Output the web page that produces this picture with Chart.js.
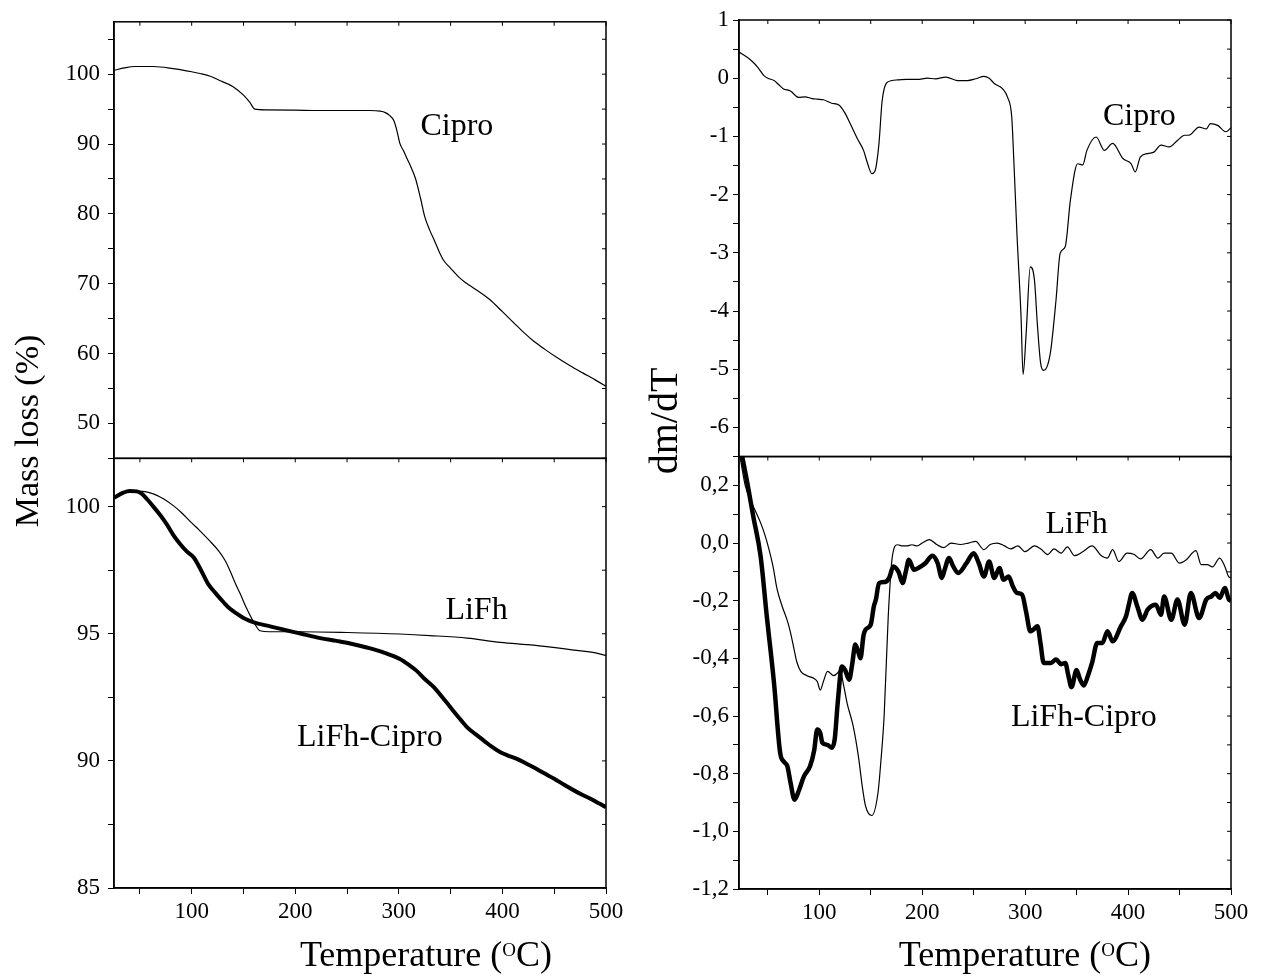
<!DOCTYPE html>
<html>
<head>
<meta charset="utf-8">
<title>TGA / DTG</title>
<script src="https://cdn.jsdelivr.net/npm/chart.js@4/dist/chart.umd.min.js"></script>
<style>
  body { margin: 0; background: #fff; }
  #wrap { position: relative; width: 1261px; height: 977px; }
  canvas { position: absolute; top: 0; }
  #tga { left: 0; }
  #dtg { left: 630px; }
</style>
</head>
<body>
<div id="wrap">
  <canvas id="tga" width="630" height="977"></canvas>
  <canvas id="dtg" width="631" height="977"></canvas>
</div>
<script>
const FONT = '"Liberation Serif", "Times New Roman", serif';

// mass loss, Cipro (top left)
const ciproTgaT = [25, 35, 45, 63, 82, 100, 108, 118, 127, 135, 140, 150, 156, 161, 172, 200, 224, 250, 272, 282, 287, 291, 295, 298, 301, 305, 308, 312, 316, 321, 325, 330, 334, 338, 343, 350, 359, 365, 372, 380, 388, 400, 411, 420, 430, 441, 453, 465, 478, 490, 500];
const ciproTgaMass = [100.55, 100.9, 101.1, 101.1, 100.8, 100.35, 100.1, 99.7, 99.1, 98.6, 98.2, 97.0, 96.0, 95.0, 94.9, 94.85, 94.8, 94.8, 94.8, 94.7, 94.5, 94.1, 93.4, 92.0, 90.1, 88.9, 87.9, 86.6, 85.1, 82.2, 79.6, 77.6, 76.3, 74.9, 73.4, 72.2, 70.8, 70.1, 69.4, 68.6, 67.7, 66.0, 64.4, 63.1, 61.8, 60.6, 59.4, 58.3, 57.2, 56.2, 55.3];

// mass loss, LiFh and LiFh-Cipro (bottom left)
const lifhTgaT = [25, 35, 44, 53, 63, 73, 82, 90, 99, 108, 117, 126, 132, 137, 142, 147, 153, 160, 166, 175, 205, 250, 301, 330, 366, 398, 430, 469, 490, 500];
const lifhTgaMass = [100.35, 100.55, 100.6, 100.6, 100.5, 100.3, 100.05, 99.77, 99.4, 99.05, 98.67, 98.26, 97.9, 97.48, 97.0, 96.56, 96.0, 95.45, 95.12, 95.08, 95.08, 95.05, 94.99, 94.93, 94.83, 94.66, 94.55, 94.36, 94.25, 94.14];
const lifhCiproTgaT = [25, 34, 40, 47, 52, 57, 63, 69, 76, 82, 89, 95, 102, 109, 116, 123, 131, 137, 144, 150, 156, 164, 173, 189, 205, 224, 240, 253, 270, 285, 301, 309, 317, 325, 334, 342, 350, 358, 366, 374, 382, 390, 398, 406, 414, 422, 430, 440, 450, 460, 469, 477, 485, 493, 500];
const lifhCiproTgaMass = [100.35, 100.55, 100.62, 100.6, 100.5, 100.29, 100.0, 99.7, 99.3, 98.9, 98.52, 98.25, 98.0, 97.5, 96.95, 96.6, 96.23, 95.98, 95.78, 95.62, 95.51, 95.4, 95.32, 95.16, 95.01, 94.83, 94.72, 94.62, 94.45, 94.27, 94.01, 93.8, 93.55, 93.22, 92.89, 92.5, 92.1, 91.7, 91.32, 91.05, 90.8, 90.55, 90.34, 90.2, 90.08, 89.92, 89.75, 89.52, 89.3, 89.05, 88.84, 88.67, 88.51, 88.33, 88.18];

// dm/dT, Cipro (top right)
const ciproDtgT = [22, 30, 36, 41, 46, 50, 56, 60, 65, 72, 80, 86, 93, 98, 104, 112, 119, 125, 130, 137, 143, 147, 151, 154, 158, 161, 166, 176, 185, 195, 205, 213, 223, 234, 244, 252, 260, 265, 270, 278, 283, 287, 289, 292, 296, 298, 301, 305, 309, 312, 315, 318, 322, 325, 330, 334, 339, 344, 351, 356, 360, 369, 377, 385, 395, 403, 407, 412, 420, 425, 432, 440, 448, 455, 459, 469, 476, 480, 487, 495, 500];
const ciproDtg = [0.45, 0.36, 0.27, 0.17, 0.05, 0.0, -0.04, -0.1, -0.18, -0.22, -0.33, -0.32, -0.35, -0.36, -0.37, -0.43, -0.46, -0.6, -0.78, -1.04, -1.24, -1.47, -1.64, -1.6, -1.12, -0.4, -0.07, -0.03, -0.02, -0.02, 0.0, -0.01, 0.02, -0.04, -0.04, -0.01, 0.03, 0.0, -0.09, -0.18, -0.33, -0.67, -1.41, -2.66, -4.09, -5.09, -4.38, -3.24, -3.46, -4.26, -4.89, -5.02, -4.92, -4.66, -3.81, -3.01, -2.89, -2.09, -1.47, -1.49, -1.24, -1.01, -1.24, -1.12, -1.38, -1.47, -1.61, -1.35, -1.29, -1.27, -1.15, -1.18, -1.07, -0.98, -0.98, -0.84, -0.87, -0.78, -0.81, -0.92, -0.85];

// dm/dT, LiFh and LiFh-Cipro (bottom right)
const lifhDtgT = [23, 28, 33, 38, 43, 47, 51, 55, 59, 64, 69, 72, 75, 78, 82, 88, 95, 98, 101, 104, 108, 114, 118, 120, 124, 127, 133, 138, 142, 145, 151, 157, 160, 163, 167, 171, 176, 181, 185, 190, 195, 200, 207, 214, 221, 228, 237, 245, 252, 260, 266, 273, 280, 286, 293, 300, 309, 315, 322, 328, 335, 341, 348, 356, 365, 374, 380, 385, 391, 399, 406, 412, 422, 429, 435, 442, 450, 456, 466, 471, 477, 482, 489, 494, 498, 500];
const lifhDtg = [0.30, 0.2, 0.15, 0.11, 0.07, 0.03, -0.02, -0.08, -0.16, -0.22, -0.27, -0.31, -0.36, -0.41, -0.445, -0.46, -0.47, -0.48, -0.51, -0.48, -0.445, -0.46, -0.45, -0.44, -0.5, -0.555, -0.636, -0.74, -0.85, -0.913, -0.945, -0.867, -0.75, -0.6, -0.254, -0.046, -0.006, -0.01, -0.01, -0.006, -0.01, 0.0, 0.012, -0.005, -0.016, 0.0, -0.005, 0.0, 0.006, -0.023, -0.005, 0.0, -0.01, -0.02, -0.01, -0.03, -0.01, -0.02, -0.04, -0.02, -0.035, -0.013, -0.044, -0.03, -0.01, -0.044, -0.052, -0.023, -0.064, -0.035, -0.04, -0.055, -0.023, -0.052, -0.035, -0.035, -0.07, -0.06, -0.026, -0.075, -0.075, -0.083, -0.052, -0.081, -0.118, -0.12];
const lifhCiproDtgT = [24, 30, 36, 43, 49, 56, 62, 66, 69, 72, 76, 80, 85, 91, 95, 98, 101, 103, 108, 112, 115, 118, 122, 125, 129, 132, 135, 138, 140, 143, 145, 150, 153, 155, 158, 164, 168, 172, 177, 181, 184, 187, 192, 197, 203, 210, 215, 219, 222, 226, 230, 235, 243, 250, 255, 260, 265, 270, 275, 279, 284, 288, 292, 297, 301, 305, 308, 312, 315, 318, 325, 330, 335, 339, 342, 345, 350, 353, 357, 361, 365, 370, 375, 380, 385, 393, 398, 401, 404, 409, 414, 419, 427, 432, 435, 442, 448, 455, 461, 469, 476, 481, 485, 489, 494, 498, 500];
const lifhCiproDtg = [0.32, 0.21, 0.09, -0.046, -0.254, -0.485, -0.728, -0.76, -0.774, -0.83, -0.89, -0.86, -0.81, -0.774, -0.72, -0.647, -0.66, -0.693, -0.7, -0.71, -0.68, -0.55, -0.428, -0.44, -0.474, -0.42, -0.352, -0.38, -0.4, -0.32, -0.3, -0.283, -0.22, -0.196, -0.139, -0.135, -0.12, -0.081, -0.1, -0.139, -0.1, -0.058, -0.093, -0.085, -0.07, -0.044, -0.07, -0.121, -0.09, -0.052, -0.08, -0.104, -0.07, -0.035, -0.07, -0.116, -0.064, -0.121, -0.087, -0.127, -0.116, -0.15, -0.173, -0.179, -0.24, -0.306, -0.3, -0.289, -0.35, -0.416, -0.416, -0.404, -0.42, -0.416, -0.46, -0.5, -0.44, -0.47, -0.494, -0.46, -0.416, -0.347, -0.347, -0.306, -0.341, -0.289, -0.254, -0.21, -0.173, -0.22, -0.266, -0.231, -0.214, -0.249, -0.185, -0.266, -0.196, -0.283, -0.173, -0.26, -0.196, -0.185, -0.173, -0.19, -0.156, -0.196, -0.2];

const pts = (xs, ys) => xs.map((x, i) => ({x: x, y: ys[i]}));

const curve = (data, axis, width) => ({
    data: data,
    yAxisID: axis,
    borderColor: '#000',
    borderWidth: width,
    pointRadius: 0,
    fill: false,
    cubicInterpolationMode: 'monotone'
});

// frame around each panel, inner ticks, curve names and axis titles
const framePlugin = {
    id: 'frame',
    afterDraw(chart, args, opts) {
        const ctx = chart.ctx;
        const x = chart.scales.x;
        ctx.save();
        ctx.strokeStyle = '#000';
        ['yTop', 'yBot'].forEach(id => {
            const y = chart.scales[id];
            ctx.lineWidth = 1.5;
            ctx.strokeRect(x.left, y.top, x.right - x.left, y.bottom - y.top);
            ctx.lineWidth = 1;
            ctx.beginPath();
            y.ticks.forEach(t => {
                const p = y.getPixelForValue(t.value);
                ctx.moveTo(x.right, p);
                ctx.lineTo(x.right - 4, p);
            });
            x.ticks.forEach(t => {
                const p = x.getPixelForValue(t.value);
                ctx.moveTo(p, y.top);
                ctx.lineTo(p, y.top + 4);
            });
            ctx.stroke();
        });

        ctx.fillStyle = '#000';
        ctx.textAlign = 'center';
        ctx.textBaseline = 'alphabetic';
        ctx.font = '32px ' + FONT;
        opts.notes.forEach(n => {
            const y = chart.scales[n.axis];
            ctx.fillText(n.text, x.getPixelForValue(n.at[0]), y.getPixelForValue(n.at[1]));
        });

        // y title shared by both panels
        ctx.save();
        ctx.translate(opts.yTitleX, opts.yTitleY);
        ctx.rotate(-Math.PI / 2);
        ctx.font = opts.yTitleSize + 'px ' + FONT;
        ctx.textBaseline = 'middle';
        ctx.fillText(opts.yTitle, 0, 0);
        ctx.restore();

        // x title, with the raised O
        const big = '36px ' + FONT, small = '19px ' + FONT;
        ctx.textAlign = 'left';
        ctx.font = big;
        const w1 = ctx.measureText('Temperature (').width;
        const w3 = ctx.measureText('C)').width;
        ctx.font = small;
        const w2 = ctx.measureText('O').width;
        let cx = x.left + (x.right - x.left) * opts.xTitlePos - (w1 + w2 + w3) / 2;
        const by = opts.xTitleY;
        ctx.font = big;
        ctx.fillText('Temperature (', cx, by);
        ctx.font = small;
        ctx.fillText('O', cx + w1, by - 10);
        ctx.font = big;
        ctx.fillText('C)', cx + w1 + w2, by);
        ctx.restore();
    }
};

const yAxis = (min, max, step, weight, label, width, pad) => ({
    type: 'linear',
    position: 'left',
    stack: 'side',
    stackWeight: weight,
    min: min,
    max: max,
    ticks: {
        stepSize: step,
        includeBounds: false,
        autoSkip: false,
        callback: label,
        font: {family: FONT, size: 23},
        color: '#000',
        padding: pad
    },
    grid: {drawOnChartArea: false, tickLength: 6, color: '#000'},
    border: {color: '#000', width: 1.5},
    afterFit: s => { s.width = width; }
});

// stacked left axes are placed last-first, so yBot is listed before yTop
const makeChart = (id, cfg) => new Chart(document.getElementById(id), {
    type: 'line',
    data: {datasets: cfg.datasets},
    options: {
        responsive: false,
        animation: false,
        layout: {padding: cfg.padding},
        plugins: {
            legend: {display: false},
            tooltip: {enabled: false},
            frame: cfg.frame
        },
        scales: {
            x: {
                type: 'linear',
                position: 'bottom',
                min: cfg.xMin,
                max: 500,
                ticks: {
                    stepSize: 50,
                    includeBounds: false,
                    autoSkip: false,
                    maxRotation: 0,
                    callback: v => v % 100 === 0 ? String(v) : '',
                    font: {family: FONT, size: 23},
                    color: '#000',
                    padding: 4
                },
                grid: {drawOnChartArea: false, tickLength: 6, color: '#000'},
                border: {color: '#000', width: 1.5},
                afterFit: s => { s.height = cfg.xHeight; }
            },
            yBot: cfg.yBot,
            yTop: cfg.yTop
        }
    },
    plugins: [framePlugin]
});

makeChart('tga', {
    xMin: 25,
    xHeight: 89,
    padding: {top: 20, right: 24, bottom: 0, left: 0},
    datasets: [
        curve(pts(ciproTgaT, ciproTgaMass), 'yTop', 1.2),
        curve(pts(lifhTgaT, lifhTgaMass), 'yBot', 1.2),
        curve(pts(lifhCiproTgaT, lifhCiproTgaMass), 'yBot', 4)
    ],
    yTop: yAxis(45, 107.5, 5, 437.3, v => v % 10 === 0 ? String(v) : '', 114, 8),
    yBot: yAxis(85, 101.9, 2.5, 430.4, v => v % 5 === 0 ? String(v) : '', 114, 8),
    frame: {
        notes: [
            {text: 'Cipro', axis: 'yTop', at: [356, 91.3]},
            {text: 'LiFh', axis: 'yBot', at: [375, 95.59]},
            {text: 'LiFh-Cipro', axis: 'yBot', at: [272, 90.6]}
        ],
        yTitle: 'Mass loss (%)', yTitleX: 29, yTitleY: 431, yTitleSize: 34,
        xTitlePos: 0.634, xTitleY: 966
    }
});

const commaLabel = v => {
    const k = Math.round(v * 10);
    return k % 2 === 0 ? (k / 10).toFixed(1).replace('.', ',') : '';
};

makeChart('dtg', {
    xMin: 22,
    xHeight: 88,
    padding: {top: 20, right: 30, bottom: 0, left: 0},
    datasets: [
        curve(pts(ciproDtgT, ciproDtg), 'yTop', 1.2),
        curve(pts(lifhDtgT, lifhDtg), 'yBot', 1.2),
        curve(pts(lifhCiproDtgT, lifhCiproDtg), 'yBot', 4.5)
    ],
    yTop: yAxis(-6.5, 1, 0.5, 436.7, v => Number.isInteger(v) ? String(v) : '', 109, 4),
    yBot: yAxis(-1.2, 0.3, 0.1, 432.6, commaLabel, 109, 4),
    frame: {
        notes: [
            {text: 'Cipro', axis: 'yTop', at: [411, -0.81]},
            {text: 'LiFh', axis: 'yBot', at: [350, 0.036]},
            {text: 'LiFh-Cipro', axis: 'yBot', at: [357, -0.633]}
        ],
        yTitle: 'dm/dT', yTitleX: 36, yTitleY: 421, yTitleSize: 40,
        xTitlePos: 0.581, xTitleY: 966
    }
});
</script>
</body>
</html>
